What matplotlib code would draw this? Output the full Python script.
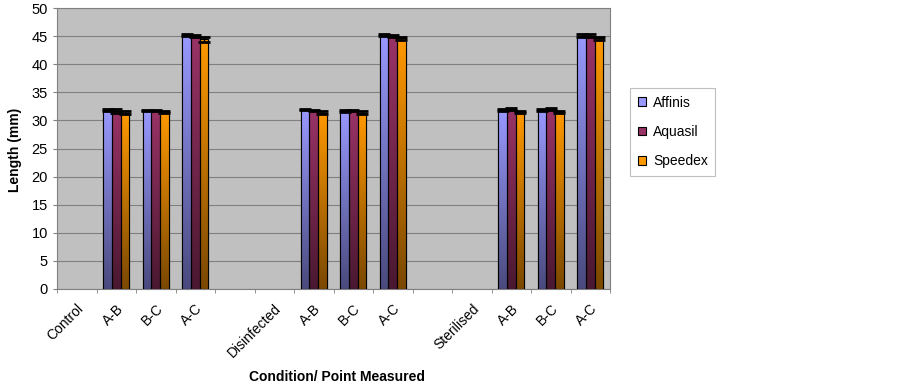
import numpy as np
import matplotlib
matplotlib.use('Agg')
import matplotlib.pyplot as plt
from matplotlib.colors import LinearSegmentedColormap
from matplotlib.patches import Patch

plt.rcParams['font.family'] = ['Liberation Sans', 'DejaVu Sans']

# categories along the x axis (blank slots separate conditions)
categories = ['Control', 'A-B', 'B-C', 'A-C', '',
              'Disinfected', 'A-B', 'B-C', 'A-C', '',
              'Sterilised', 'A-B', 'B-C', 'A-C']
series = ['Affinis', 'Aquasil', 'Speedex']

# mean lengths (mm), None where no bar is drawn
affinis = [None, 31.9, 31.8, 45.2, None, None, 31.9, 31.7, 45.2, None, None, 31.8, 31.8, 45.1]
aquasil = [None, 31.7, 31.8, 45.0, None, None, 31.8, 31.8, 45.0, None, None, 32.0, 32.0, 45.1]
speedex = [None, 31.4, 31.5, 44.4, None, None, 31.4, 31.4, 44.6, None, None, 31.5, 31.5, 44.6]
# standard deviations
affinis_sd = [None, 0.2, 0.1, 0.2, None, None, 0.1, 0.2, 0.2, None, None, 0.2, 0.2, 0.2]
aquasil_sd = [None, 0.3, 0.1, 0.2, None, None, 0.1, 0.1, 0.2, None, None, 0.2, 0.2, 0.2]
speedex_sd = [None, 0.2, 0.2, 0.4, None, None, 0.2, 0.2, 0.3, None, None, 0.2, 0.2, 0.3]

values = [affinis, aquasil, speedex]
errors = [affinis_sd, aquasil_sd, speedex_sd]
top_colors = ['#9999FF', '#993366', '#FF9900']
bottom_colors = ['#4A4A7E', '#4A1830', '#7A4800']

fig = plt.figure(figsize=(9.02, 3.84), dpi=100)
ax = fig.add_axes([57 / 902, 95 / 384, 553 / 902, 281 / 384])
ax.set_facecolor('#C0C0C0')

width = 0.22
x = np.arange(len(categories))
for i, (vals, sds) in enumerate(zip(values, errors)):
    cmap = LinearSegmentedColormap.from_list('g%d' % i, [bottom_colors[i], top_colors[i]])
    for j, v in enumerate(vals):
        if v is None:
            continue
        xc = x[j] + (i - 1) * width
        bar = ax.bar(xc, v, width, color=top_colors[i], edgecolor='black', linewidth=0.8, zorder=3)[0]
        grad = np.linspace(0, 1, 256).reshape(-1, 1)
        im = ax.imshow(grad, cmap=cmap, origin='lower', aspect='auto',
                       extent=[xc - width / 2, xc + width / 2, 0, v], zorder=3.5)
        im.set_clip_path(bar)
        ax.bar(xc, v, width, fill=False, edgecolor='black', linewidth=0.8, zorder=4)
        ax.errorbar(xc, v, yerr=sds[j], fmt='none', ecolor='black', elinewidth=1.0,
                    capsize=4.5, capthick=2.0, zorder=5)

ax.set_xlim(-0.5, len(categories) - 0.5)
ax.set_ylim(0, 50)
ax.set_yticks(range(0, 51, 5))
ax.yaxis.grid(True, color='#808080', linewidth=0.8, zorder=0)
ax.set_axisbelow(True)
ax.set_xticks(x)
ax.set_xticklabels(categories, rotation=45, ha='right', rotation_mode='anchor', fontsize=10)
ax.set_xticks(np.arange(-0.5, len(categories)), minor=True)
ax.tick_params(axis='x', which='major', length=0, pad=9)
ax.tick_params(axis='x', which='minor', length=3, color='#808080')
ax.tick_params(axis='y', labelsize=10.5, length=3, color='#808080')
for s in ax.spines.values():
    s.set_color('#808080')

fig.text(15 / 902, 1 - 150 / 384, 'Length (mm)', rotation=90, fontsize=10,
         fontweight='bold', ha='center', va='center')
fig.text(337 / 902, 1 - 377 / 384, 'Condition/ Point Measured', fontsize=10,
         fontweight='bold', ha='center', va='center')

handles = [Patch(facecolor=c, edgecolor='black', linewidth=0.8) for c in top_colors]
leg = ax.legend(handles, series, loc='upper left',
                bbox_to_anchor=((630 - 57) / 553, (289 - 88) / 281),
                frameon=True, fancybox=False, edgecolor='#B0B0B0', fontsize=10,
                handlelength=0.6, handleheight=0.6, labelspacing=1.1, borderpad=0.55,
                handletextpad=0.5, borderaxespad=0)
leg.get_frame().set_linewidth(0.8)

fig.savefig('out.png', dpi=100)
